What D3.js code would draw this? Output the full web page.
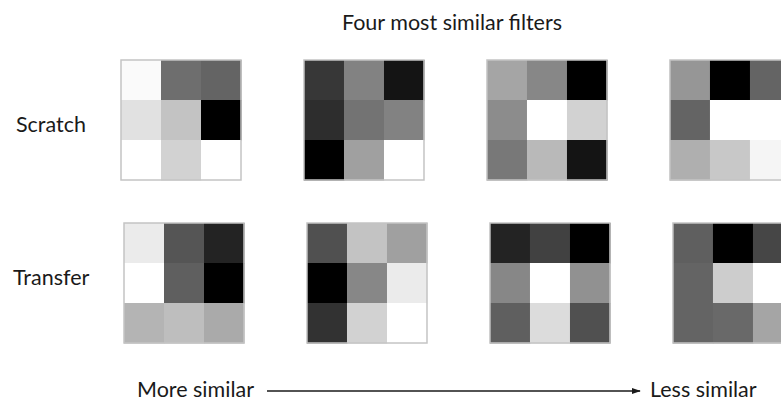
<!DOCTYPE html>
<html>
<head>
<meta charset="utf-8">
<script src="https://cdn.jsdelivr.net/npm/d3@7"></script>
<style>
  html, body { margin: 0; padding: 0; background: #fff; }
  svg { display: block; }
  text { font-family: Lato, "Open Sans", sans-serif; fill: #1a1a1a; }
</style>
</head>
<body>
<svg id="chart" width="781" height="403"></svg>
<script>
// Row labels, rank labels and the 3x3 filter intensities (0 = black, 255 = white)
const rows = ["Scratch", "Transfer"];
const ranks = [1, 2, 3, 4];
const title = "Four most similar filters";
const moreLabel = "More similar";
const lessLabel = "Less similar";

const scratchFilters = [
  [[250, 110, 100], [225, 195, 0], [255, 210, 255]],
  [[55, 130, 20], [45, 115, 130], [0, 160, 255]],
  [[165, 135, 0], [140, 255, 210], [120, 185, 20]],
  [[150, 0, 100], [100, 255, 255], [175, 200, 245]]
];
const transferFilters = [
  [[235, 85, 35], [255, 95, 0], [180, 190, 170]],
  [[80, 195, 160], [0, 135, 235], [50, 210, 255]],
  [[35, 65, 0], [135, 255, 145], [95, 220, 80]],
  [[95, 0, 70], [100, 205, 255], [100, 105, 165]]
];
const filtersByRow = [scratchFilters, transferFilters];

const svg = d3.select("#chart");

const boxSize = 120;
// Filter rank -> horizontal position of each 3x3 block
const xRank = d3.scaleBand().domain(ranks).range([121, 790]).paddingInner(0.344);
// Row -> vertical position of each block
const yRow = d3.scaleBand().domain(rows).range([60, 343]).paddingInner(43 / 163);
const rowShift = { "Scratch": 0, "Transfer": 3 };
const labelBaseline = { "Scratch": 132, "Transfer": 285 };
const labelX = { "Scratch": 16, "Transfer": 13 };

const cellIdx = [0, 1, 2];
const cellBand = d3.scaleBand().domain(cellIdx).range([0, boxSize]);
const gray = d3.scaleLinear().domain([0, 255]).range(["#000000", "#ffffff"]);

rows.forEach((row, ri) => {
  const filters = filtersByRow[ri];
  filters.forEach((f, fi) => {
    const g = svg.append("g")
      .attr("transform", `translate(${xRank(ranks[fi]) + rowShift[row]},${yRow(row)})`);
    const cells = [];
    f.forEach((r, i) => r.forEach((v, j) => cells.push({ i, j, v })));
    g.selectAll("rect.cell").data(cells).join("rect")
      .attr("class", "cell")
      .attr("x", d => cellBand(d.j))
      .attr("y", d => cellBand(d.i))
      .attr("width", cellBand.bandwidth() + 0.5)
      .attr("height", cellBand.bandwidth() + 0.5)
      .attr("fill", d => gray(d.v));
    g.append("rect")
      .attr("x", 0).attr("y", 0)
      .attr("width", boxSize).attr("height", boxSize)
      .attr("fill", "none")
      .attr("stroke", "#c4c4c4")
      .attr("stroke-width", 1.5);
  });

  svg.append("text")
    .attr("x", labelX[row])
    .attr("y", labelBaseline[row])
    .attr("font-size", 21.5)
    .text(row);
});

// Title
svg.append("text")
  .attr("x", 452).attr("y", 30)
  .attr("text-anchor", "middle")
  .attr("font-size", 21.5)
  .text(title);

// Similarity direction arrow
svg.append("defs").append("marker")
  .attr("id", "arrowhead")
  .attr("viewBox", "0 0 10 10")
  .attr("refX", 9).attr("refY", 5)
  .attr("markerWidth", 6).attr("markerHeight", 6)
  .attr("orient", "auto")
  .append("path")
  .attr("d", "M0,1.5 L10,5 L0,8.5 Z")
  .attr("fill", "#1a1a1a");

svg.append("text")
  .attr("x", 137).attr("y", 397)
  .attr("font-size", 21.5)
  .text(moreLabel);

svg.append("line")
  .attr("x1", 267).attr("y1", 391)
  .attr("x2", 640).attr("y2", 391)
  .attr("stroke", "#1a1a1a")
  .attr("stroke-width", 1.5)
  .attr("marker-end", "url(#arrowhead)");

svg.append("text")
  .attr("x", 650).attr("y", 397)
  .attr("font-size", 21.5)
  .text(lessLabel);
</script>
</body>
</html>
